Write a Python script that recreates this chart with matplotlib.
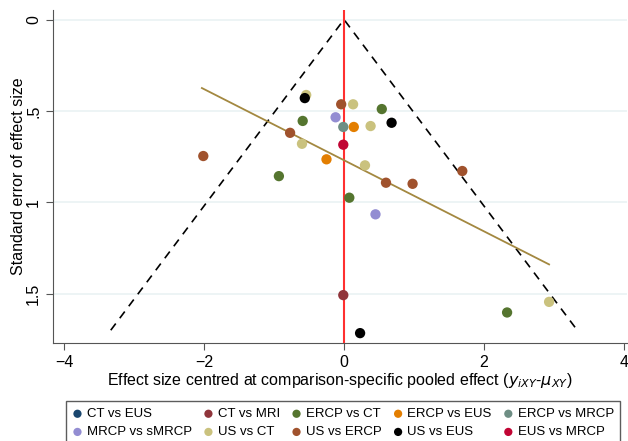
"""Comparison-adjusted funnel plot"""

import numpy as np
import matplotlib
matplotlib.use('Agg')
import matplotlib.pyplot as plt

plt.rcParams['font.family'] = ['Liberation Sans', 'DejaVu Sans']

# comparison groups and their colours (legend order)
groups = ['CT vs EUS', 'CT vs MRI', 'ERCP vs CT', 'ERCP vs EUS', 'ERCP vs MRCP',
          'MRCP vs sMRCP', 'US vs CT', 'US vs ERCP', 'US vs EUS', 'EUS vs MRCP']
colors = ['#1a476f', '#90353b', '#55752f', '#e37e00', '#6e8e84',
          '#938dd2', '#cac27e', '#a0522d', '#000000', '#c10534']

# study points: centred effect, standard error, group
eff_x = [-2.01, -0.77, -0.04, 0.60, 0.98, 1.69,
         -0.93, -0.59, 0.54, 0.076, 2.33,
         -0.60, -0.54, 0.13, 0.38, 0.30, 2.93,
         -0.56, 0.68, 0.23,
         -0.12, 0.45,
         -0.01, 0.14, -0.25,
         -0.01, -0.01]
se_y = [0.747, 0.620, 0.464, 0.893, 0.899, 0.829,
        0.857, 0.555, 0.490, 0.975, 1.603,
        0.680, 0.413, 0.464, 0.583, 0.798, 1.545,
        0.430, 0.565, 1.716,
        0.535, 1.066,
        0.588, 0.588, 0.765,
        0.685, 1.508]
grp = ['US vs ERCP'] * 6 + ['ERCP vs CT'] * 5 + ['US vs CT'] * 6 + \
      ['US vs EUS'] * 3 + ['MRCP vs sMRCP'] * 2 + ['ERCP vs MRCP', 'ERCP vs EUS', 'ERCP vs EUS'] + \
      ['EUS vs MRCP', 'CT vs MRI']

se_max = 1.70
reg_x = [-2.03, 2.93]
reg_y = [0.375, 1.340]

fig = plt.figure(figsize=(6.28, 4.41), dpi=100)
ax = fig.add_axes([53 / 628, 98 / 441, 574 / 628, 333 / 441])

for g, c in zip(groups, colors):
    px = [x for x, gg in zip(eff_x, grp) if gg == g]
    py = [y for y, gg in zip(se_y, grp) if gg == g]
    ax.scatter(px, py, s=55, color=c, edgecolors='none', zorder=4, label=g)

# funnel
ax.plot([-1.96 * se_max, 0, 1.96 * se_max], [se_max, 0, se_max],
        color='black', ls=(0, (5, 4)), lw=1.2, zorder=2)
ax.axvline(0, color='#ff3030', lw=1.5, zorder=3)
ax.plot(reg_x, reg_y, color='#a38840', lw=1.3, zorder=3)

ax.set_xlim(-4.157, 4.043)
ax.set_ylim(1.77, -0.052)
ax.set_xticks([-4, -2, 0, 2, 4])
ax.set_yticks([0, 0.5, 1, 1.5])
ax.set_yticklabels(['0', '.5', '1', '1.5'], rotation=90, va='center')
ax.grid(axis='y', color='#eaf2f3', lw=1.2)
ax.set_axisbelow(True)
for s in ['top', 'right']:
    ax.spines[s].set_visible(False)
for s in ['left', 'bottom']:
    ax.spines[s].set_color('#555555')
ax.tick_params(length=5, color='#555555', labelsize=11.5)
ax.set_ylabel('Standard error of effect size', fontsize=11.5, labelpad=0)
ax.set_xlabel(r'Effect size centred at comparison-specific pooled effect ($\mathit{y_{iXY}}$-$\mathit{\mu_{XY}}$)',
              fontsize=11.5, labelpad=1)

# legend filled row by row
h, l = ax.get_legend_handles_labels()
order = [0, 5, 1, 6, 2, 7, 3, 8, 4, 9]
leg = fig.legend([h[i] for i in order], [l[i] for i in order], loc='lower left', ncol=5,
                 bbox_to_anchor=(59 / 628, -0.024, 568 / 628, 0.01), mode='expand',
                 fontsize=9.5, frameon=True, fancybox=False, edgecolor='#333333',
                 handletextpad=0.3, columnspacing=0.3, labelspacing=0.45,
                 borderpad=0.5, handlelength=0.8, markerscale=0.8)
leg.get_frame().set_linewidth(1.0)

fig.savefig('out.png', dpi=100)
